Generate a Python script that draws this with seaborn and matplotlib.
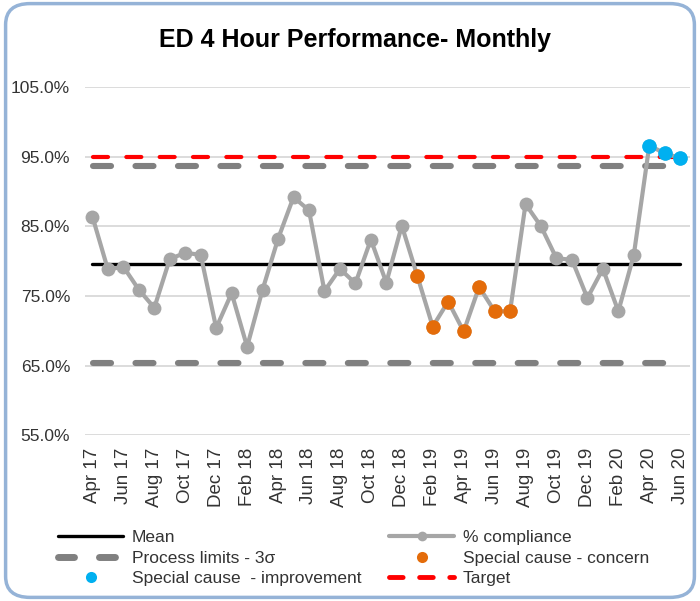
import pandas as pd
import seaborn as sns
import matplotlib.pyplot as plt
from matplotlib.patches import FancyBboxPatch
from matplotlib.lines import Line2D

# monthly labels, Apr 17 to Jun 20
MONTHS = ["Apr 17", "May 17", "Jun 17", "Jul 17", "Aug 17", "Sep 17",
          "Oct 17", "Nov 17", "Dec 17", "Jan 18", "Feb 18", "Mar 18",
          "Apr 18", "May 18", "Jun 18", "Jul 18", "Aug 18", "Sep 18",
          "Oct 18", "Nov 18", "Dec 18", "Jan 19", "Feb 19", "Mar 19",
          "Apr 19", "May 19", "Jun 19", "Jul 19", "Aug 19", "Sep 19",
          "Oct 19", "Nov 19", "Dec 19", "Jan 20", "Feb 20", "Mar 20",
          "Apr 20", "May 20", "Jun 20"]

# % of patients seen within 4 hours
COMPLIANCE = [86.4, 78.8, 79.2, 75.9, 73.3, 80.3, 81.2, 80.9, 70.4, 75.4,
              67.7, 75.9, 83.2, 89.2, 87.3, 75.7, 78.9, 76.8, 83.1, 76.9,
              85.1, 77.9, 70.6, 74.2, 69.9, 76.3, 72.8, 72.8, 88.2, 85.0,
              80.4, 80.2, 74.7, 78.9, 72.8, 80.9, 96.6, 95.5, 94.8]

# special cause flags
CONCERN_MONTHS = ["Jan 19", "Feb 19", "Mar 19", "Apr 19", "May 19",
                  "Jun 19", "Jul 19"]
IMPROVEMENT_MONTHS = ["Apr 20", "May 20", "Jun 20"]

MEAN = 79.6
UPPER_LIMIT = 93.6
LOWER_LIMIT = 65.4
TARGET = 95.0

Y_TICKS = [55, 65, 75, 85, 95, 105]

FONT = ["Liberation Sans", "DejaVu Sans"]

GREY = "#a6a6a6"
LIMIT_GREY = "#808080"
ORANGE = "#e46c0a"
BLUE = "#00b0f0"
RED = "#ff0000"


def main():
    sns.set_theme(style="white")
    plt.rcParams["font.family"] = FONT

    df = pd.DataFrame({"month": MONTHS, "pct": COMPLIANCE})
    df["x"] = range(len(df))
    concern = df[df["month"].isin(CONCERN_MONTHS)]
    improve = df[df["month"].isin(IMPROVEMENT_MONTHS)]

    fig = plt.figure(figsize=(7, 6.01), dpi=100)
    ax = fig.add_axes([0.121, 0.276, 0.864, 0.579])

    x0, x1 = df["x"].min(), df["x"].max()

    # control lines
    ax.plot([x0, x1], [MEAN, MEAN], color="black", lw=2.4, zorder=3)
    for lim in (UPPER_LIMIT, LOWER_LIMIT):
        ax.plot([x0 + 0.05, x1 - 1.05], [lim, lim], color=LIMIT_GREY,
                lw=4.4, dashes=(2.95, 4.0), dash_capstyle="round", zorder=3)
    ax.plot([x0 + 0.05, x1], [TARGET, TARGET], color=RED, lw=3,
            dashes=(3.6, 4.4), dash_capstyle="round", zorder=3)

    # monthly performance
    sns.lineplot(data=df, x="x", y="pct", color=GREY, lw=3,
                 marker="o", markersize=10, markeredgewidth=0, ax=ax,
                 zorder=4)
    sns.scatterplot(data=concern, x="x", y="pct", color=ORANGE, s=110,
                    linewidth=0, ax=ax, zorder=5)
    sns.scatterplot(data=improve, x="x", y="pct", color=BLUE, s=110,
                    linewidth=0, ax=ax, zorder=5)

    ax.set_xlim(-0.5, 38.6)
    ax.set_ylim(55, 105)
    ax.set_yticks(Y_TICKS)
    ax.set_yticklabels([f"{v:.1f}%" for v in Y_TICKS], fontsize=12.5,
                       color="#333333")
    ax.set_xticks(df["x"][::2])
    ax.set_xticklabels(df["month"][::2], rotation=90, fontsize=13.5,
                       color="#333333")
    ax.tick_params(axis="y", pad=10.5, length=0)
    ax.tick_params(axis="x", pad=9, length=0)
    ax.grid(axis="y", color="#d9d9d9", lw=1.3)
    ax.set_xlabel("")
    ax.set_ylabel("")
    for s in ax.spines.values():
        s.set_visible(False)

    fig.text(0.507, 0.933, "ED 4 Hour Performance- Monthly", ha="center",
             va="center", fontsize=18, fontweight="bold", color="black")

    left_handles = [
        Line2D([], [], color="black", lw=2.4),
        Line2D([], [], color=LIMIT_GREY, lw=5, dashes=(2.3, 3.6),
               dash_capstyle="round"),
        Line2D([], [], color=BLUE, lw=0, marker="o", markersize=8,
               markeredgewidth=0),
    ]
    left_labels = ["Mean", "Process limits - 3σ",
                   "Special cause  - improvement"]
    right_handles = [
        Line2D([], [], color=GREY, lw=3, marker="o", markersize=7,
               markeredgewidth=0),
        Line2D([], [], color=ORANGE, lw=0, marker="o", markersize=8,
               markeredgewidth=0),
        Line2D([], [], color=RED, lw=3.5, dashes=(2.8, 3.4),
               dash_capstyle="round"),
    ]
    right_labels = ["% compliance", "Special cause - concern", "Target"]

    common = dict(loc="center left", frameon=False, fontsize=12.5,
                  handlelength=3.75, handletextpad=0.5, labelspacing=0.32,
                  borderpad=0, borderaxespad=0, labelcolor="#333333")
    fig.legend(left_handles, left_labels,
               bbox_to_anchor=(0.083, 0.0715), **common)
    fig.legend(right_handles, right_labels,
               bbox_to_anchor=(0.556, 0.0715), **common)

    border = FancyBboxPatch((0.008, 0.006), 0.984, 0.988,
                            boxstyle="round,pad=0,rounding_size=0.035",
                            transform=fig.transFigure, fill=False,
                            edgecolor="#95b3d7", lw=2.5)
    fig.patches.append(border)

    fig.savefig("out.png", dpi=100)


if __name__ == "__main__":
    main()
